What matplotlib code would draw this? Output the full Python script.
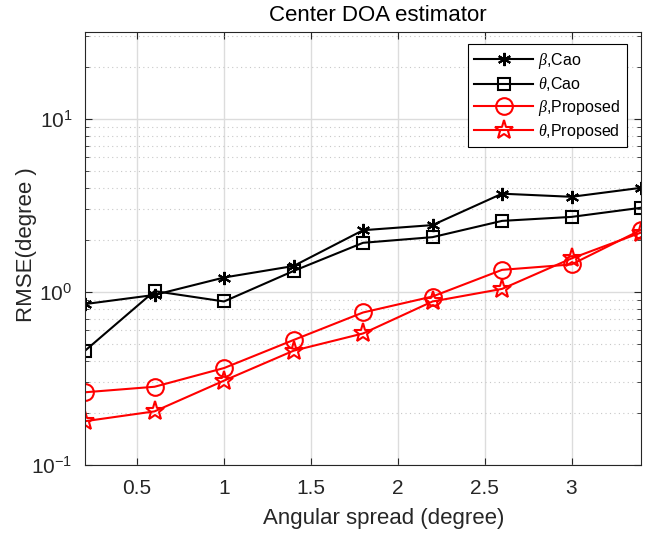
import matplotlib
matplotlib.use("Agg")
import matplotlib.pyplot as plt
from matplotlib.ticker import LogLocator, FixedLocator, NullFormatter

plt.rcParams['font.family'] = ['Liberation Sans', 'DejaVu Sans']
plt.rcParams['mathtext.fontset'] = 'custom'
plt.rcParams['mathtext.rm'] = 'Liberation Sans'
plt.rcParams['mathtext.it'] = 'Liberation Serif:italic'

# angular spread values
spread = [0.2, 0.6, 1.0, 1.4, 1.8, 2.2, 2.6, 3.0, 3.4]

# RMSE
beta_cao = [0.85, 0.96, 1.21, 1.41, 2.27, 2.43, 3.69, 3.54, 3.99]
theta_cao = [0.457, 1.01, 0.88, 1.32, 1.92, 2.07, 2.57, 2.71, 3.06]
beta_prop = [0.263, 0.283, 0.363, 0.527, 0.76, 0.94, 1.34, 1.44, 2.28]
theta_prop = [0.179, 0.204, 0.307, 0.457, 0.575, 0.88, 1.04, 1.56, 2.2]

labels = [r'$\it{\beta}$,Cao', r'$\it{\theta}$,Cao',
          r'$\it{\beta}$,Proposed', r'$\it{\theta}$,Proposed']

fig = plt.figure(figsize=(6.56, 5.36), dpi=100)
ax = fig.add_axes([0.1296, 0.1325, 0.8476, 0.8075])

asterisk = (6, 2, 0)
ax.semilogy(spread, beta_cao, color='k', lw=1.5, marker=asterisk, ms=9.5,
            mew=1.5, label=labels[0])
ax.semilogy(spread, theta_cao, color='k', lw=1.5, marker='s', ms=9,
            mfc='none', mew=1.5, label=labels[1])
ax.semilogy(spread, beta_prop, color='r', lw=1.5, marker='o', ms=12,
            mfc='none', mew=1.5, label=labels[2])
ax.semilogy(spread, theta_prop, color='r', lw=1.5, marker='*', ms=14,
            mfc='none', mew=1.5, label=labels[3])

ax.set_xlim(0.2, 3.4)
ax.set_ylim(0.1, 10 ** 1.5)
ax.xaxis.set_major_locator(FixedLocator([0.5, 1, 1.5, 2, 2.5, 3]))
ax.set_xticklabels(['0.5', '1', '1.5', '2', '2.5', '3'])
ax.yaxis.set_major_locator(LogLocator(base=10, numticks=10))
ax.yaxis.set_minor_locator(LogLocator(base=10, subs=range(2, 10), numticks=10))
ax.yaxis.set_minor_formatter(NullFormatter())

ax.grid(True, which='major', color='#dcdcdc', lw=1, ls='-')
ax.grid(True, which='minor', axis='y', color='#c8c8c8', lw=0.8, ls=(0, (1, 3)))
ax.set_axisbelow(True)

ax.tick_params(which='both', direction='in', top=True, right=True,
               labelsize=15, colors='#262626', labelcolor='#262626')
ax.tick_params(which='major', length=5)
ax.tick_params(which='minor', length=3)
ax.tick_params(axis='x', pad=10)
ax.tick_params(axis='y', pad=9)
for s in ax.spines.values():
    s.set_color('#262626')
    s.set_linewidth(0.8)

ax.set_xlabel('Angular spread (degree)', fontsize=16, color='#262626',
              labelpad=7, x=0.537)
ax.set_ylabel('RMSE(degree )', fontsize=16, color='#262626', labelpad=-4,
              y=0.51)
ax.set_title('Center DOA estimator', fontsize=16, color='k', pad=8,
             x=0.526)

leg = ax.legend(loc='upper right', bbox_to_anchor=(0.974, 0.972),
                borderaxespad=0, fontsize=11.5,
                fancybox=False, edgecolor='k', framealpha=1,
                handlelength=3.7, borderpad=0.4, labelspacing=0.28,
                handletextpad=0.3)
leg.get_frame().set_linewidth(0.8)

fig.savefig('out.png', dpi=100)
